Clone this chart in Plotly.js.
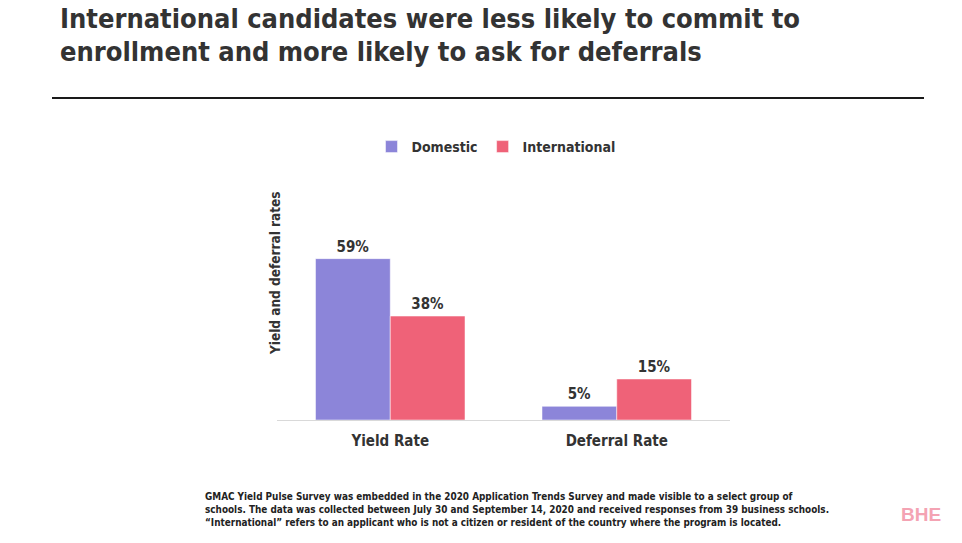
<!DOCTYPE html>
<html><head><meta charset="utf-8">
<script src="https://cdn.plot.ly/plotly-3.0.1.min.js"></script>
<style>html,body{margin:0;padding:0;background:#fff;}#chart{width:962px;height:543px;}</style>
</head><body><div id="chart"></div>
<script>
const categories = ["Yield Rate", "Deferral Rate"];
const domestic = [59, 5];
const international = [38, 15];
const seriesNames = ["Domestic", "International"];
const titleLines = ["International candidates were less likely to commit to", "enrollment and more likely to ask for deferrals"];
const yTitle = "Yield and deferral rates";
const footnote = ["GMAC Yield Pulse Survey was embedded in the 2020 Application Trends Survey and made visible to a select group of",
  "schools. The data was collected between July 30 and September 14, 2020 and received responses from 39 business schools.",
  "\u201cInternational\u201d refers to an applicant who is not a citizen or resident of the country where the program is located."];

const FONT = '"DejaVu Sans Condensed", "DejaVu Sans", sans-serif';
const pct = v => v + '%';
const traces = [
  {type:'bar', name:seriesNames[0], x:categories, y:domestic, text:domestic.map(pct), textposition:'outside',
   marker:{color:'#8C85D9', line:{color:'#ffffff', width:0.5}}, cliponaxis:false,
   textfont:{family:FONT, size:15, color:'#333333', weight:'bold'}, hoverinfo:'skip'},
  {type:'bar', name:seriesNames[1], x:categories, y:international, text:international.map(pct), textposition:'outside',
   marker:{color:'#EF6278', line:{color:'#ffffff', width:0.5}}, cliponaxis:false,
   textfont:{family:FONT, size:15, color:'#333333', weight:'bold'}, hoverinfo:'skip'}
];
const PH = 294, PW = 453, PL = 277, PB = 420;
const px = x => (x - PL) / PW;
const py = y => (PB - y) / PH;
const layout = {
  width:962, height:543,
  margin:{l:277, r:232, t:126, b:123, autoexpand:false},
  paper_bgcolor:'#ffffff', plot_bgcolor:'#ffffff',
  barmode:'group', bargap:0.34, bargroupgap:0,
  font:{family:FONT, color:'#333333'},
  showlegend:true,
  legend:{orientation:'h', x:px(496), xanchor:'center', y:py(147), yanchor:'middle',
    font:{family:FONT, size:14, color:'#333333', weight:'bold'}, traceorder:'normal'},
  xaxis:{type:'category', showline:true, linecolor:'#d9d9d9', linewidth:1, ticks:'', showgrid:false,
    ticklabelstandoff:7,
    tickfont:{family:FONT, size:15, color:'#333333', weight:'bold'}, zeroline:false, fixedrange:true},
  yaxis:{range:[0,107.5], showticklabels:false, showgrid:false, zeroline:false, showline:false, ticks:'', fixedrange:true},
  annotations:[
    {xref:'paper', yref:'paper', x:px(275), y:py(273), text:yTitle, textangle:-90, showarrow:false,
     font:{family:FONT, size:13.5, color:'#333333', weight:'bold'}, xanchor:'center', yanchor:'middle'},
    {xref:'paper', yref:'paper', x:px(58), y:py(18), xanchor:'left', yanchor:'middle', showarrow:false, align:'left',
     text:titleLines[0], font:{family:FONT, size:27, color:'#333333', weight:'bold'}},
    {xref:'paper', yref:'paper', x:px(58), y:py(51), xanchor:'left', yanchor:'middle', showarrow:false, align:'left',
     text:titleLines[1], font:{family:FONT, size:27, color:'#333333', weight:'bold'}},
    {xref:'paper', yref:'paper', x:px(203), y:py(509), xanchor:'left', yanchor:'middle', showarrow:false, align:'left',
     text:footnote.join('<br>'), font:{family:FONT, size:9.9, color:'#222222', weight:'bold'}},
    {xref:'paper', yref:'paper', x:px(943), y:py(514), xanchor:'right', yanchor:'middle', showarrow:false,
     text:'BHE', font:{family:'"Liberation Sans", Arial, sans-serif', size:19, color:'#F4A3B3', weight:'bold'}}
  ],
  shapes:[
    {type:'line', xref:'paper', yref:'paper', x0:px(52), x1:px(924), y0:py(98), y1:py(98),
     line:{color:'#1a1a1a', width:2}}
  ]
};
Plotly.newPlot('chart', traces, layout, {displayModeBar:false, staticPlot:true});
</script></body></html>
